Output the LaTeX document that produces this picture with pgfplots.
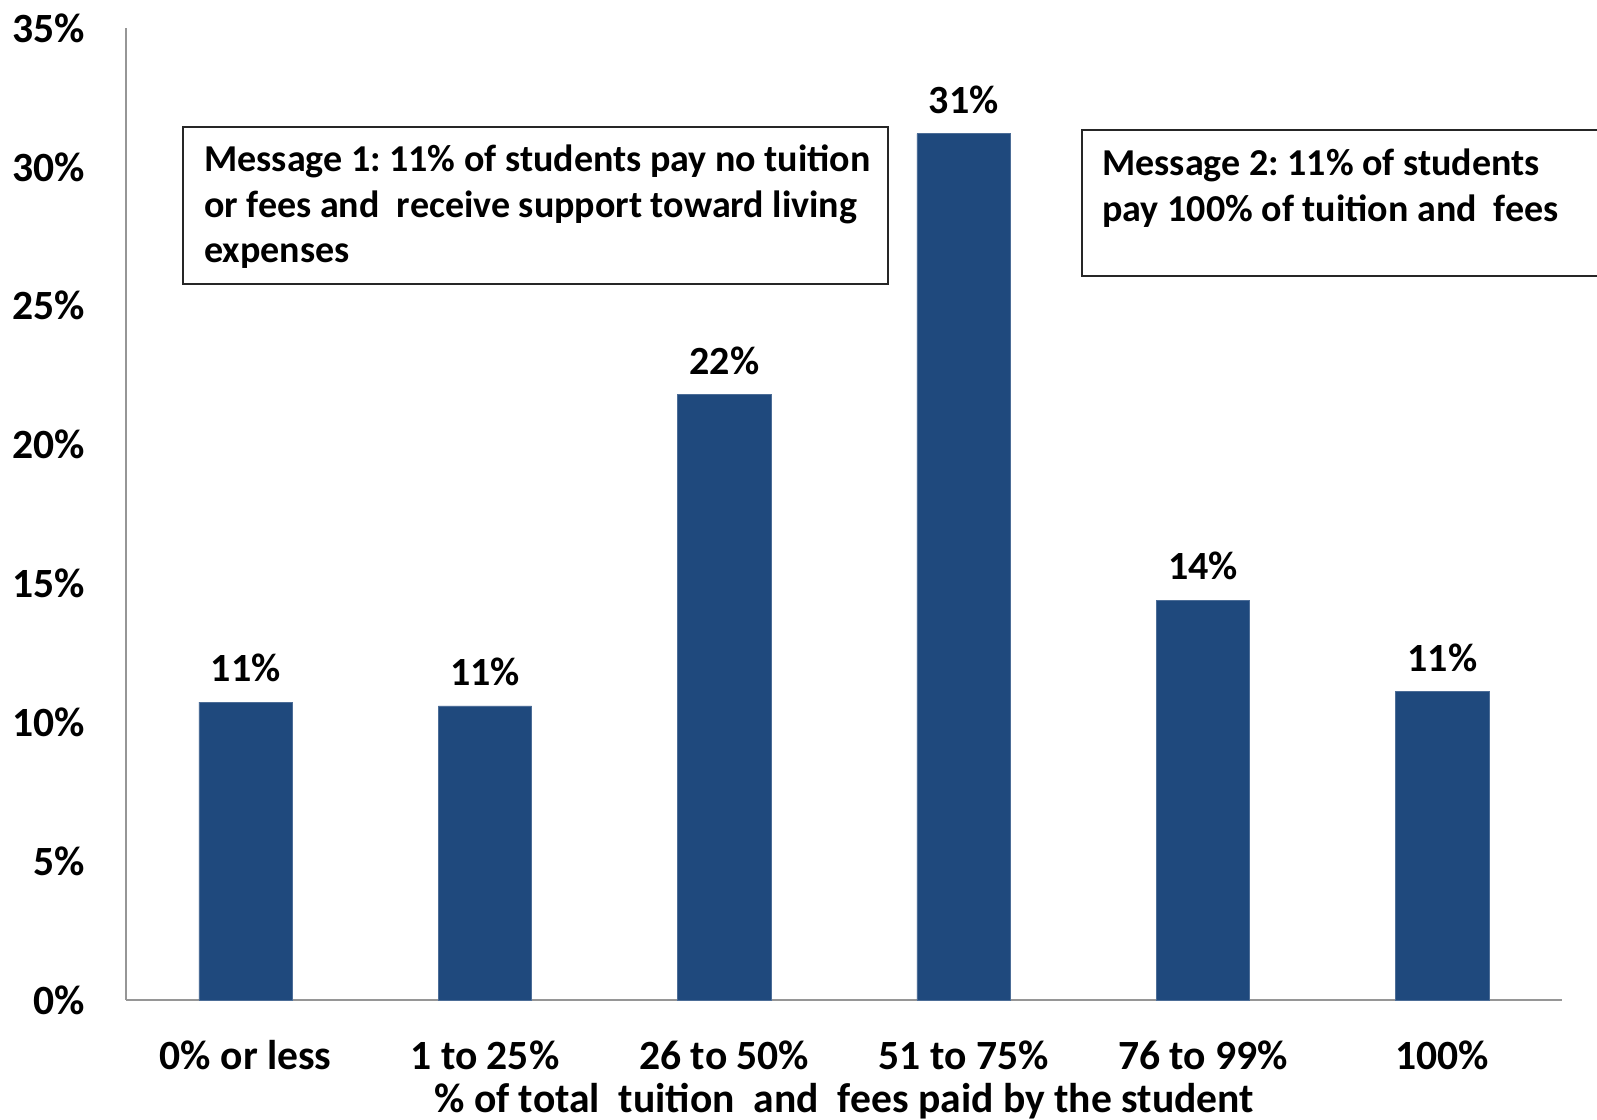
\documentclass[border=0pt]{standalone}
\usepackage{fontspec}
\setmainfont{Carlito}
\usepackage{pgfplots}
\pgfplotsset{compat=1.18}
\definecolor{barblue}{RGB}{31,73,125}
\definecolor{axgray}{RGB}{150,150,150}
\frenchspacing
\newcommand{\cf}{\fontsize{20}{24}\selectfont\bfseries}
\newcommand{\tf}{\fontsize{20.8}{24}\selectfont\bfseries}
\newcommand{\boxf}{\fontsize{19}{23}\selectfont\bfseries}
\begin{document}
\begin{tikzpicture}[x=1pt,y=1pt]
\path[use as bounding box] (0,0) rectangle (798.5,560);
\begin{axis}[
  at={(63pt,60pt)}, anchor=south west,
  scale only axis, width=718pt, height=486pt,
  axis lines=left, axis line style={-, draw=axgray, line width=0.9pt},
  xmin=-0.5, xmax=5.5, ymin=0, ymax=35,
  xtick={0,...,5},
  xticklabels={0\% or less, 1 to 25\%, 26 to 50\%, 51 to 75\%, 76 to 99\%, 100\%},
  ytick={0,5,...,35},
  yticklabel={\pgfmathprintnumber{\tick}\%},
  /pgf/number format/assume math mode=true,
  major tick length=0pt,
  tick label style={font=\tf, inner sep=0pt},
  yticklabel style={anchor=east, xshift=-20.5pt},
  xticklabel style={anchor=center, yshift=-27.5pt},
  xlabel={\% of total\ \ tuition\ \ and\ \ fees paid by the student},
  xlabel style={font=\tf, at={(axis description cs:0.5,0)}, anchor=center, yshift=-50.5pt, inner sep=0pt},
  ybar, bar width=0.39,
  nodes near coords={\pgfmathprintnumber[fixed,precision=0]{\pgfplotspointmeta}\%},
  nodes near coords style={font=\cf, anchor=center, yshift=17pt, inner sep=0pt, /pgf/number format/assume math mode=true},
  clip=false,
]
\addplot[fill=barblue, draw=barblue!80!white, line width=0.3pt] coordinates {
  (0,10.73) (1,10.59) (2,21.8) (3,31.2) (4,14.4) (5,11.1)
};
\end{axis}
% message boxes
\draw[line width=0.9pt, draw=black!85] (91.5,418) rectangle (444,496.5);
\node[font=\boxf, anchor=base west, inner sep=0pt] at (102,474) {Message 1: 11\% of students pay no tuition};
\node[font=\boxf, anchor=base west, inner sep=0pt] at (102,451) {or fees and\ \ receive support toward living};
\node[font=\boxf, anchor=base west, inner sep=0pt] at (102,428.5) {expenses};
\draw[line width=0.9pt, draw=black!85] (541,422) rectangle (810,495);
\node[font=\boxf, anchor=base west, inner sep=0pt] at (551,472) {Message 2: 11\% of students};
\node[font=\boxf, anchor=base west, inner sep=0pt] at (551,449) {pay 100\% of tuition and\ \ fees};
\end{tikzpicture}
\end{document}
